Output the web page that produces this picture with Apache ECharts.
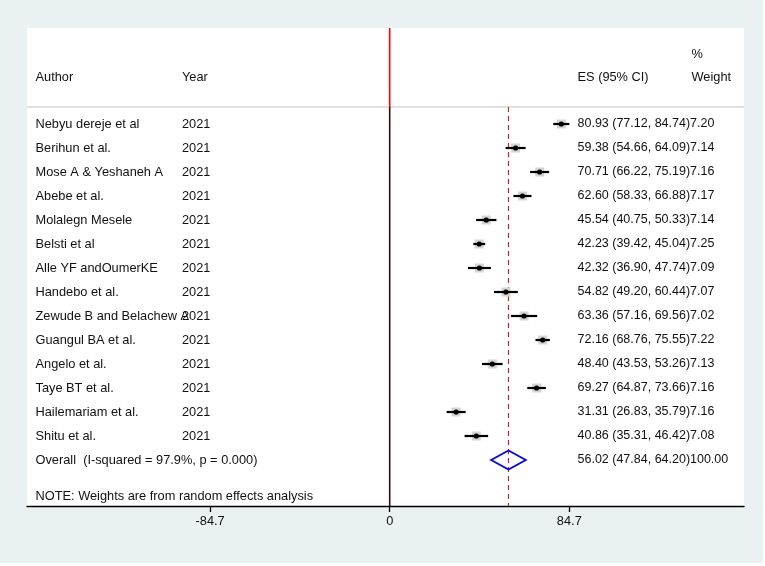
<!DOCTYPE html>
<html>
<head>
<meta charset="utf-8">
<script src="https://cdn.jsdelivr.net/npm/echarts@6/dist/echarts.min.js"></script>
<style>
html,body{margin:0;padding:0;background:#ffffff;}
#chart{width:763px;height:563px;}
</style>
</head>
<body>
<div id="chart"></div>
<script>
// ---- data ----
var authors = ["Nebyu dereje et al","Berihun et al.","Mose A & Yeshaneh A","Abebe et al.","Molalegn Mesele","Belsti et al","Alle YF andOumerKE","Handebo et al.","Zewude B and Belachew A","Guangul BA et al.","Angelo et al.","Taye BT et al.","Hailemariam et al.","Shitu et al."];
var years = ["2021","2021","2021","2021","2021","2021","2021","2021","2021","2021","2021","2021","2021","2021"];
var es = [80.93,59.38,70.71,62.60,45.54,42.23,42.32,54.82,63.36,72.16,48.40,69.27,31.31,40.86];
var lower = [77.12,54.66,66.22,58.33,40.75,39.42,36.90,49.20,57.16,68.76,43.53,64.87,26.83,35.31];
var upper = [84.74,64.09,75.19,66.88,50.33,45.04,47.74,60.44,69.56,75.55,53.26,73.66,35.79,46.42];
var weights = ["7.20","7.14","7.16","7.17","7.14","7.25","7.09","7.07","7.02","7.22","7.13","7.16","7.16","7.08"];
var overallES = 56.02, overallLower = 47.84, overallUpper = 64.20;
var overallLabel = "Overall  (I-squared = 97.9%, p = 0.000)";
var overallWeight = "100.00";
var noteText = "NOTE: Weights are from random effects analysis";
var tickValues = [-84.7, 0, 84.7];
var tickLabels = ["-84.7", "0", "84.7"];

// ---- build ----
var FONT = "'Liberation Sans', Arial, sans-serif";
var FS = 12.5;
var FSL = 12.8;
var TXT = '#111111';
var nRows = authors.length;
var overallRow = nRows + 1;
var noteRow = nRows + 2.5;

var studyData = es.map(function(v, i){ return [v, i + 1, lower[i], upper[i]]; });
var rowTexts = authors.map(function(a, i){
  var ci = es[i].toFixed(2) + ' (' + lower[i].toFixed(2) + ', ' + upper[i].toFixed(2) + ')';
  return {row: i + 1, author: a, year: years[i], ci: ci, weight: weights[i]};
});
rowTexts.push({row: overallRow, author: overallLabel, year: '',
  ci: overallES.toFixed(2) + ' (' + overallLower.toFixed(2) + ', ' + overallUpper.toFixed(2) + ')', weight: overallWeight});
var textData = rowTexts.map(function(r){ return [0, r.row]; });

var chart = echarts.init(document.getElementById('chart'), null, {renderer: 'canvas'});
var option = {
  backgroundColor: '#e9f1f3',
  animation: false,
  grid: {left: 27, right: 19, top: 28, bottom: 57, show: true, backgroundColor: '#ffffff', borderWidth: 0},
  xAxis: {
    type: 'value', min: -171.05, max: 167.09,
    splitLine: {show: false},
    axisLine: {show: true, onZero: false, lineStyle: {color: '#000', width: 1.3}},
    axisTick: {show: true, customValues: tickValues, length: 6, inside: false, lineStyle: {color: '#000', width: 1.3}},
    axisLabel: {show: true, customValues: tickValues, formatter: function(v){
      var idx = tickValues.indexOf(v); return idx >= 0 ? tickLabels[idx] : ''; },
      color: TXT, fontFamily: FONT, fontSize: FSL, margin: 9}
  },
  yAxis: {type: 'value', inverse: true, min: -3, max: 16.9167, show: false},
  series: [
    {
      type: 'custom', silent: true, z: 2,
      data: [[0, 0]],
      renderItem: function(params, api){
        var cs = params.coordSys;
        var yHead = api.coord([0, 0.29])[1];
        var x0 = api.coord([0, 0])[0];
        var xo = api.coord([overallES, 0])[0];
        var yBot = cs.y + cs.height;
        return {type: 'group', children: [
          {type: 'line', shape: {x1: cs.x, y1: yHead, x2: cs.x + cs.width, y2: yHead}, style: {stroke: '#c4c4c4', lineWidth: 1}},
          {type: 'line', shape: {x1: x0, y1: cs.y, x2: x0, y2: yHead}, style: {stroke: '#ff0000', lineWidth: 1.6}},
          {type: 'line', shape: {x1: x0, y1: yHead, x2: x0, y2: yBot}, style: {stroke: '#3a0a0a', lineWidth: 1.6}},
          {type: 'line', shape: {x1: xo, y1: yHead, x2: xo, y2: yBot}, style: {stroke: '#c0282d', lineWidth: 1.2, lineDash: [5, 4]}}
        ]};
      }
    },
    {
      type: 'custom', silent: true, z: 3,
      data: studyData,
      renderItem: function(params, api){
        var p = api.coord([api.value(0), api.value(1)]);
        var l = api.coord([api.value(2), api.value(1)]);
        var u = api.coord([api.value(3), api.value(1)]);
        var b = 4.5;
        return {type: 'group', children: [
          {type: 'rect', shape: {x: p[0] - b, y: p[1] - b, width: 2 * b, height: 2 * b}, style: {fill: '#d4d4d4'}},
          {type: 'line', shape: {x1: l[0], y1: l[1], x2: u[0], y2: u[1]}, style: {stroke: '#000', lineWidth: 2.2}},
          {type: 'circle', shape: {cx: p[0], cy: p[1], r: 2.6}, style: {fill: '#000'}}
        ]};
      }
    },
    {
      type: 'custom', silent: true, z: 4,
      data: [[overallES, overallRow, overallLower, overallUpper]],
      renderItem: function(params, api){
        var c = api.coord([api.value(0), api.value(1)]);
        var l = api.coord([api.value(2), api.value(1)]);
        var u = api.coord([api.value(3), api.value(1)]);
        var h = 9.5;
        return {type: 'polygon', shape: {points: [[l[0], c[1]], [c[0], c[1] - h], [u[0], c[1]], [c[0], c[1] + h]]},
          style: {fill: 'none', stroke: '#0000ff', lineWidth: 1.8}};
      }
    },
    {
      type: 'custom', silent: true, z: 5,
      data: textData,
      renderItem: function(params, api){
        var r = rowTexts[params.dataIndex];
        var y = api.coord([0, api.value(1)])[1];
        var st = function(t, x, fs){ return {type: 'text', x: x, y: y, style: {text: t, fill: TXT, font: fs + 'px ' + FONT, textVerticalAlign: 'middle', textAlign: 'left'}}; };
        return {type: 'group', children: [
          st(r.author, 35.5, FSL), st(r.year, 182, FSL), st(r.ci, 577.5, FS), st(r.weight, 690, FS)
        ]};
      }
    },
    {
      type: 'custom', silent: true, z: 5,
      data: [[0, 0]],
      renderItem: function(params, api){
        var st = function(t, x, y){ return {type: 'text', x: x, y: y, style: {text: t, fill: TXT, font: FSL + 'px ' + FONT, textVerticalAlign: 'middle', textAlign: 'left'}}; };
        var yNote = api.coord([0, noteRow])[1];
        return {type: 'group', children: [
          st('Author', 35.5, 77.5), st('Year', 182, 77.5), st('ES (95% CI)', 577.5, 77.5),
          st('%', 691.5, 54), st('Weight', 691.5, 77.5), st(noteText, 35.5, yNote)
        ]};
      }
    }
  ]
};
chart.setOption(option);
</script>
</body>
</html>
